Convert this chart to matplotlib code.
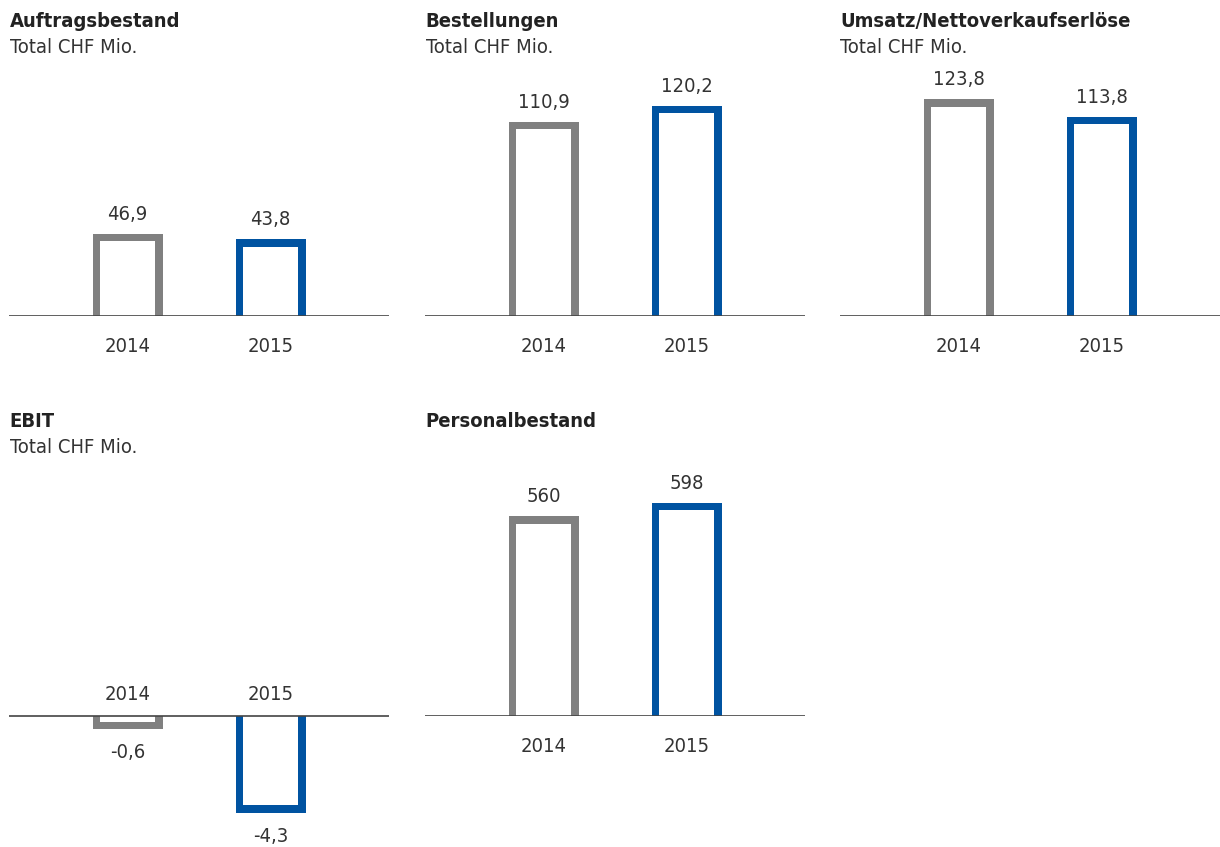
import matplotlib
matplotlib.use("Agg")
import matplotlib.pyplot as plt
from matplotlib import font_manager

# a condensed face comes closest to the original; use it when it is installed
condensed = [f for f in font_manager.fontManager.ttflist
             if f.name.startswith("DejaVu Sans") and f.stretch == "condensed"]
if condensed:
    plt.rcParams['font.family'] = ['DejaVu Sans']
    plt.rcParams['font.stretch'] = 'condensed'
    FS = 14.5
else:
    plt.rcParams['font.family'] = ['Liberation Sans', 'DejaVu Sans']
    FS = 14

years = ["2014", "2015"]
auftragsbestand = [46.9, 43.8]
bestellungen = [110.9, 120.2]
umsatz = [123.8, 113.8]
ebit = [-0.6, -4.3]
personalbestand = [560, 598]

titles = ["Auftragsbestand", "Bestellungen", "Umsatz/Nettoverkaufserlöse", "EBIT", "Personalbestand"]
subtitle = "Total CHF Mio."

GREY = "#808080"
BLUE = "#0053a1"
TEXT = "#333333"

W, H = 1220, 847
fig = plt.figure(figsize=(W / 100, H / 100), dpi=100)

BAR_PX = 70      # outer bar width in pixels
STEP_PX = 143    # distance between the two bars
STROKE = 7.5     # outline thickness in pixels
PANEL_W = 380


def fmt(v):
    if isinstance(v, int):
        return str(v)
    return f"{v:.1f}".replace(".", ",")


def panel(x0, top, bottom, base, px_per_unit, values, title, sub, years_above=False):
    # axes in pixel coordinates, y-scale chosen so that 1 unit = px_per_unit
    ax = fig.add_axes([x0 / W, 1 - bottom / H, PANEL_W / W, (bottom - top) / H])
    left = -118.5 / STEP_PX
    ax.set_xlim(left, left + PANEL_W / STEP_PX)
    ax.set_ylim(-(bottom - base) / px_per_unit, (base - top) / px_per_unit)
    ax.axis("off")

    w = BAR_PX / STEP_PX
    tx = STROKE / STEP_PX
    ty = STROKE / px_per_unit
    for i, (v, c) in enumerate(zip(values, [GREY, BLUE])):
        sign = 1 if v >= 0 else -1
        ax.bar(i, v, width=w, color=c, zorder=2)
        ax.bar(i, v - sign * ty, width=w - 2 * tx, color="white", zorder=3)
        if v >= 0:
            ax.annotate(fmt(v), (i, v), xytext=(0, 14), textcoords="offset pixels",
                        ha="center", va="baseline", fontsize=FS, color=TEXT)
        else:
            ax.annotate(fmt(v), (i, v), xytext=(0, -29), textcoords="offset pixels",
                        ha="center", va="baseline", fontsize=FS, color=TEXT)
        if years_above:
            ax.annotate(years[i], (i, 0), xytext=(0, 15.5), textcoords="offset pixels",
                        ha="center", va="baseline", fontsize=FS, color=TEXT)
        else:
            ax.annotate(years[i], (i, 0), xytext=(0, -36), textcoords="offset pixels",
                        ha="center", va="baseline", fontsize=FS, color=TEXT, annotation_clip=False)
    ax.axhline(0, color="#444444", lw=1.2, zorder=4)

    fig.text((x0 + 0.5) / W, 1 - (top - 33) / H, title,
             fontsize=FS, fontweight="bold", color="#222222", va="baseline")
    if sub:
        fig.text((x0 + 0.5) / W, 1 - (top - 7.3) / H, sub, fontsize=FS, color=TEXT, va="baseline")
    return ax


panel(9, 60, 316, 316, 1.75, auftragsbestand, titles[0], subtitle)
panel(425, 60, 316, 316, 1.75, bestellungen, titles[1], subtitle)
panel(840, 60, 316, 316, 1.75, umsatz, titles[2], subtitle)
panel(9, 460, 847, 715.5, 22.6, ebit, titles[3], subtitle, years_above=True)
panel(425, 460, 715.5, 715.5, 0.356, personalbestand, titles[4], None)

fig.savefig("out.png", dpi=100, facecolor="white")
